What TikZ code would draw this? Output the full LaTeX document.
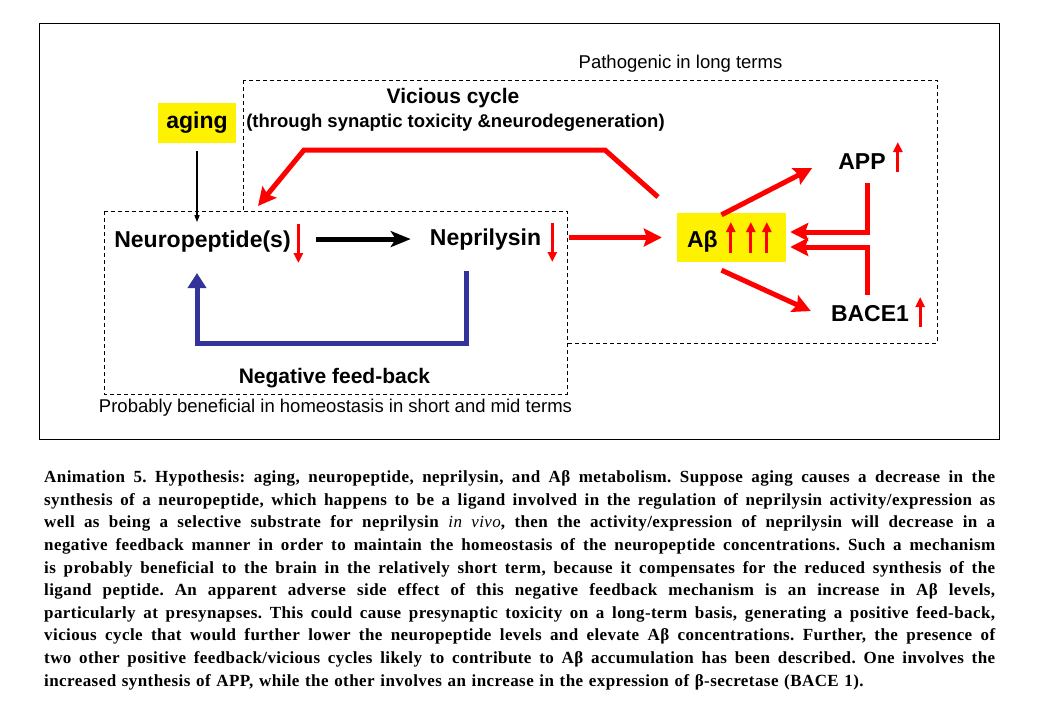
\documentclass[tikz,border=0pt]{standalone}
\usepackage{fontspec}
\setmainfont{Liberation Serif}
\setsansfont{Liberation Sans}
\newfontfamily\capfont{Liberation Serif}[LetterSpace=2.5]
\usepackage{tikz}
\usetikzlibrary{arrows.meta,calc,positioning}

\definecolor{fbblue}{RGB}{51,51,153}
\newcommand{\fullline}[1]{\makebox[951pt][s]{\spaceskip=0pt\xspaceskip=0pt\relax #1}}

\begin{document}
\begin{tikzpicture}[
  x=1pt, y=-1pt,
  lbl/.style={font=\sffamily\bfseries\fontsize{23}{27}\selectfont, inner sep=2pt},
  sublbl/.style={font=\sffamily\bfseries\fontsize{#1}{#1}\selectfont, inner sep=2pt},
  note/.style={font=\sffamily\fontsize{18.5}{20}\selectfont, inner sep=0pt},
  hl/.style={fill=yellow, inner sep=0pt},
  zone/.style={draw, dash pattern=on 4pt off 3pt, line width=0.9pt},
  redarrow/.style={-{Stealth[length=18pt,width=18pt,inset=3pt]}, line width=5pt, red},
  blackarrow/.style={-{Stealth[length=20pt,width=16pt,inset=5pt]}, line width=5pt},
  bluearrow/.style={-{Triangle[length=15pt,width=18pt]}, line width=5pt, fbblue},
  thinarrow/.style={-{Triangle[length=7pt,width=5pt]}, line width=1.2pt},
  lvl/.style={-{Triangle[length=10pt,width=9pt]}, line width=3pt, red},
  captxt/.style={font=\capfont\bfseries\fontsize{17}{22.6}\selectfont\frenchspacing, text width=951pt, align=left, inner sep=0pt, anchor=north west},
]

%% ---- page, frame and zones ----
\fill[white] (0,0) rectangle (1040,720);
\useasboundingbox (0,0) rectangle (1040,720);
\draw[line width=1pt] (39,23) rectangle (999,439);
\draw[zone] (243,80) rectangle (937,343);
\draw[zone, fill=white] (104,211) rectangle (567,394);

\node[note, anchor=base] (longlbl) at (680.5,68) {Pathogenic in long terms};
\node[note, anchor=base] (shortlbl) at (335.5,412) {Probably beneficial in homeostasis in short and mid terms};

%% ---- aging and vicious cycle titles ----
\node[lbl, hl, minimum width=78pt, minimum height=40pt] (aging) at (197,123) {aging};
\node[sublbl=21, anchor=base] (vc) at (453,103) {Vicious cycle};
\node[sublbl=18.5, anchor=base] (vcsub) at (455.5,127) {(through synaptic toxicity \&neurodegeneration)};

%% ---- negative feedback loop ----
\node[lbl, anchor=base] (np) at (202.5,247) {Neuropeptide(s)};
\node[lbl, anchor=base] (nep) at (485.5,245) {Neprilysin};
\node[sublbl=21, anchor=base] (fb) at (334.5,383) {Negative feed-back};

\draw[thinarrow, shorten <=8pt, shorten >=6pt] (aging.south) -- (aging.south |- np.north);
\draw[blackarrow, shorten <=23pt, shorten >=17pt] ([yshift=2pt]np.east) -- ([yshift=2pt]np.east -| nep.west);

\coordinate (fbstart) at (466,271);
\coordinate (fbend) at (197,273);
\draw[bluearrow] (fbstart) -- ++(0,72) -| (fbend);

\draw[lvl] ($(np.base east)+(5.5,-23)$) -- ++(0,39);
\draw[lvl] ($(nep.base east)+(9,-22)$) -- ++(0,39);

%% ---- A-beta, APP and BACE1 ----
\node[hl, minimum width=109pt, minimum height=49pt] (ab) at (731.5,237.5) {};
\node[lbl, anchor=base west, inner sep=0pt] (abtxt) at ($(ab.west)+(10,9.5)$) {Aβ};
\foreach \dx in {54,74,90}
  \draw[lvl] ($(ab.west)+(\dx,15.5)$) -- ++(0,-31);

\node[lbl, anchor=base] (app) at (862,169) {APP};
\node[lbl, anchor=base] (bace) at (870,321) {BACE1};
\draw[lvl] ($(app.base east)+(10,3)$) -- ++(0,-30);
\draw[lvl] ($(bace.base east)+(9,6)$) -- ++(0,-30);

\draw[redarrow, shorten <=26pt, shorten >=15pt] (ab.west -| nep.east) -- (ab.west);

\coordinate (vcstart) at (658,197);
\coordinate (vcend) at (258,206);
\draw[redarrow] (vcstart) -- ++(-53,-47) -- ++(-301,0) -- (vcend);

\draw[redarrow] ($(ab.north)+(-10,2)$) -- ($(app.west)+(-24,7)$);
\draw[redarrow] ($(ab.south)+(-10,8)$) -- ($(bace.west)+(-18,-2)$);
\draw[redarrow] ($(app.south)+(5,12)$) |- ($(ab.east)+(4,-5.5)$);
\draw[redarrow] ($(bace.north)+(-3,-7.5)$) |- ($(ab.east)+(4,9.5)$);

%% ---- caption ----
\node[captxt] (caption) at (44,470.5) {%
\fullline{Animation 5. Hypothesis: aging, neuropeptide, neprilysin, and Aβ metabolism. Suppose aging causes a decrease in the}\\
\fullline{synthesis of a neuropeptide, which happens to be a ligand involved in the regulation of neprilysin activity/expression as}\\
\fullline{well as being a selective substrate for neprilysin \textmd{\itshape in vivo}, then the activity/expression of neprilysin will decrease in a}\\
\fullline{negative feedback manner in order to maintain the homeostasis of the neuropeptide concentrations. Such a mechanism}\\
\fullline{is probably beneficial to the brain in the relatively short term, because it compensates for the reduced synthesis of the}\\
\fullline{ligand peptide. An apparent adverse side effect of this negative feedback mechanism is an increase in Aβ levels,}\\
\fullline{particularly at presynapses. This could cause presynaptic toxicity on a long-term basis, generating a positive feed-back,}\\
\fullline{vicious cycle that would further lower the neuropeptide levels and elevate Aβ concentrations. Further, the presence of}\\
\fullline{two other positive feedback/vicious cycles likely to contribute to Aβ accumulation has been described. One involves the}\\
increased synthesis of APP, while the other involves an increase in the expression of β-secretase (BACE 1).};

\end{tikzpicture}
\end{document}
